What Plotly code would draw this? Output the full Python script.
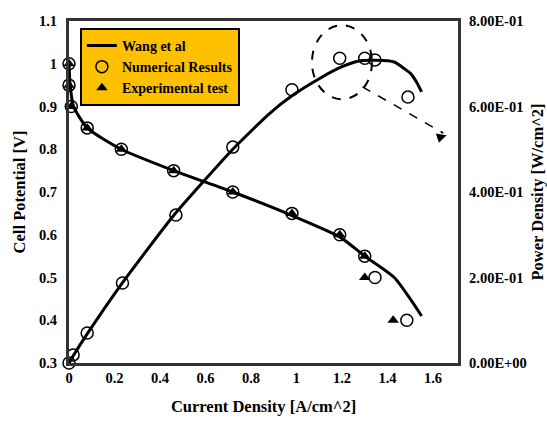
import plotly.graph_objects as go

# ---- data ----
wang_i_v = [0.0, 0.005, 0.02, 0.08, 0.23, 0.46, 0.72, 0.98, 1.19, 1.30, 1.43, 1.50, 1.55]
wang_v = [1.0, 0.95, 0.90, 0.85, 0.80, 0.75, 0.70, 0.645, 0.595, 0.55, 0.50, 0.45, 0.41]

wang_i_p = [0.0, 0.02, 0.08, 0.23, 0.46, 0.72, 0.88, 0.98, 1.10, 1.20, 1.27, 1.35, 1.43, 1.47, 1.50, 1.53, 1.55]
wang_p = [0.0, 0.018, 0.068, 0.184, 0.345, 0.50, 0.583, 0.625, 0.665, 0.693, 0.706, 0.708, 0.704, 0.69, 0.678, 0.655, 0.634]

num_i = [0.0, 0.0, 0.01, 0.08, 0.23, 0.46, 0.72, 0.98, 1.19, 1.30, 1.345, 1.485]
num_v = [1.0, 0.95, 0.90, 0.85, 0.80, 0.75, 0.70, 0.65, 0.60, 0.55, 0.50, 0.40]
num_p_i = [0.0, 0.018, 0.08, 0.235, 0.47, 0.72, 0.98, 1.19, 1.30, 1.345, 1.49]
num_p = [0.0, 0.019, 0.07, 0.187, 0.346, 0.505, 0.639, 0.713, 0.713, 0.709, 0.622]

exp_i = [0.0, 0.0, 0.01, 0.08, 0.23, 0.46, 0.72, 0.98, 1.19, 1.30, 1.30, 1.425]
exp_v = [1.0, 0.95, 0.90, 0.85, 0.80, 0.75, 0.70, 0.65, 0.60, 0.55, 0.50, 0.40]

p_tickvals = [0.0, 0.2, 0.4, 0.6, 0.8]
p_ticktext = ["0.00E+00", "2.00E-01", "4.00E-01", "6.00E-01", "8.00E-01"]

FONT = "Liberation Serif"

fig = go.Figure()
fig.add_trace(go.Scatter(x=wang_i_v, y=wang_v, mode="lines", name="<b>Wang et al</b>",
                         line=dict(color="black", width=3, shape="spline", smoothing=0.6),
                         showlegend=True, legendrank=1))
fig.add_trace(go.Scatter(x=wang_i_p, y=wang_p, mode="lines", yaxis="y2",
                         line=dict(color="black", width=3, shape="spline", smoothing=0.5),
                         showlegend=False))
fig.add_trace(go.Scatter(x=exp_i, y=exp_v, mode="markers", name="<b>Experimental test</b>",
                         marker=dict(symbol="triangle-up", size=10, color="black"),
                         cliponaxis=False, showlegend=True, legendrank=3))
fig.add_trace(go.Scatter(x=num_i, y=num_v, mode="markers", name="<b>Numerical Results</b>",
                         marker=dict(symbol="circle-open", size=12, color="black", line=dict(width=1.5)),
                         cliponaxis=False, showlegend=True, legendrank=2))
fig.add_trace(go.Scatter(x=num_p_i, y=num_p, mode="markers", yaxis="y2",
                         marker=dict(symbol="circle-open", size=12, color="black", line=dict(width=1.5)),
                         cliponaxis=False, showlegend=False))

# dashed circle and dashed arrow
fig.add_shape(type="circle", xref="x", yref="y2", x0=1.068, x1=1.332, y0=0.617, y1=0.790,
              line=dict(color="black", width=2, dash="dash"))
fig.add_shape(type="line", xref="x", yref="y2", x0=1.29, y0=0.646, x1=1.645, y1=0.538,
              line=dict(color="black", width=1.5, dash="dash"))
fig.add_annotation(x=1.66, y=0.533, ax=-9, ay=3, xref="x", yref="y2",
                   showarrow=True, arrowhead=2, arrowsize=1.3, arrowwidth=1.5, arrowcolor="black", text="")

axis_font = dict(family=FONT, size=14.5, color="black")
title_font = dict(family=FONT, size=16.5, color="black")

fig.update_layout(
    width=547, height=423,
    margin=dict(l=69, r=89, t=21, b=60),
    paper_bgcolor="white", plot_bgcolor="white",
    font=dict(family=FONT, color="black"),
    xaxis=dict(range=[0, 1.71], dtick=0.2, tick0=0, showgrid=False, zeroline=False,
               showline=True, linecolor="#333", linewidth=3, mirror=True, automargin=False,
               ticks="", tickfont=axis_font, tickprefix="<b>", ticksuffix="</b>",
               title=dict(text="<b>Current Density [A/cm^2]</b>", font=title_font, standoff=16)),
    yaxis=dict(range=[0.3, 1.1], dtick=0.1, tick0=0.3, showgrid=False, zeroline=False,
               showline=True, linecolor="#333", linewidth=3, mirror=True, automargin=False,
               ticks="", tickfont=axis_font, ticklabelstandoff=6,
               tickprefix="<b>", ticksuffix="</b>",
               title=dict(text="<b>Cell Potential [V]</b>", font=title_font, standoff=10)),
    yaxis2=dict(range=[0, 0.8], overlaying="y", side="right", showgrid=False, zeroline=False,
                automargin=False,
                tickvals=p_tickvals, ticktext=["<b>%s</b>" % t for t in p_ticktext],
                ticks="", tickfont=axis_font, ticklabelstandoff=10,
                title=dict(text="<b>Power Density [W/cm^2]</b>", font=title_font, standoff=6)),
    legend=dict(x=0.028, y=0.98, xanchor="left", yanchor="top",
                bgcolor="#FFC000", bordercolor="black", borderwidth=2,
                font=dict(family=FONT, size=14, color="black"),
                tracegroupgap=0, itemwidth=30),
    showlegend=True,
)

fig.write_html("out.html")
